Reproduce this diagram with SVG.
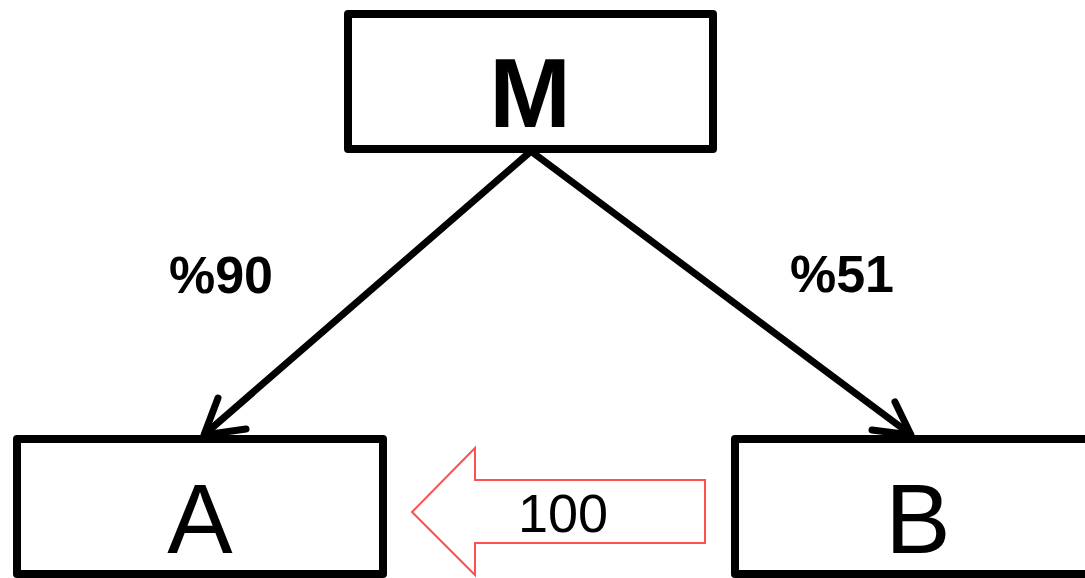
<svg xmlns="http://www.w3.org/2000/svg" width="1085" height="578" viewBox="0 0 1085 578">
  <defs>
    <style>
      .box { fill: #ffffff; stroke: #000000; stroke-width: 8; stroke-linejoin: round; }
      .node-label { font-family: "Liberation Sans", Arial, sans-serif; font-size: 98px; fill: #000000; text-anchor: middle; }
      .edge { fill: none; stroke: #000000; stroke-width: 7; stroke-linecap: round; stroke-linejoin: round; }
      .edge-label { font-family: "Liberation Sans", Arial, sans-serif; font-size: 52px; font-weight: bold; fill: #000000; text-anchor: middle; }
      .transfer { fill: #ffffff; stroke: #ff5050; stroke-width: 2; stroke-linejoin: miter; }
      .transfer-label { font-family: "Liberation Sans", Arial, sans-serif; font-size: 54px; fill: #000000; text-anchor: middle; }
    </style>
  </defs>
  <rect width="1085" height="578" fill="#ffffff"/>

  <g id="node-M">
    <rect class="box" x="348" y="14" width="365" height="135"/>
    <text class="node-label" x="530" y="127" font-weight="bold">M</text>
  </g>

  <g id="node-A">
    <rect class="box" x="17" y="439" width="366" height="135"/>
    <text class="node-label" x="200" y="553">A</text>
  </g>

  <g id="node-B">
    <rect class="box" x="735" y="439" width="360" height="135"/>
    <text class="node-label" x="918" y="553">B</text>
  </g>

  <g id="connectors">
    <!-- M to A -->
    <path class="edge" d="M530,152 L205,434"/>
    <path class="edge" d="M218,398 L204,435 L246,429"/>
    <text class="edge-label" x="221" y="293">%90</text>
    <!-- M to B -->
    <path class="edge" d="M532,152 L910,434"/>
    <path class="edge" d="M895,402 L911,435 L872,430"/>
    <text class="edge-label" x="842" y="292">%51</text>
    <!-- B to A transfer -->
    <path class="transfer" d="M705,480 L475,480 L475,448 L412,512 L475,575 L475,543 L705,543 Z"/>
    <text class="transfer-label" x="563" y="532">100</text>
  </g>
</svg>
